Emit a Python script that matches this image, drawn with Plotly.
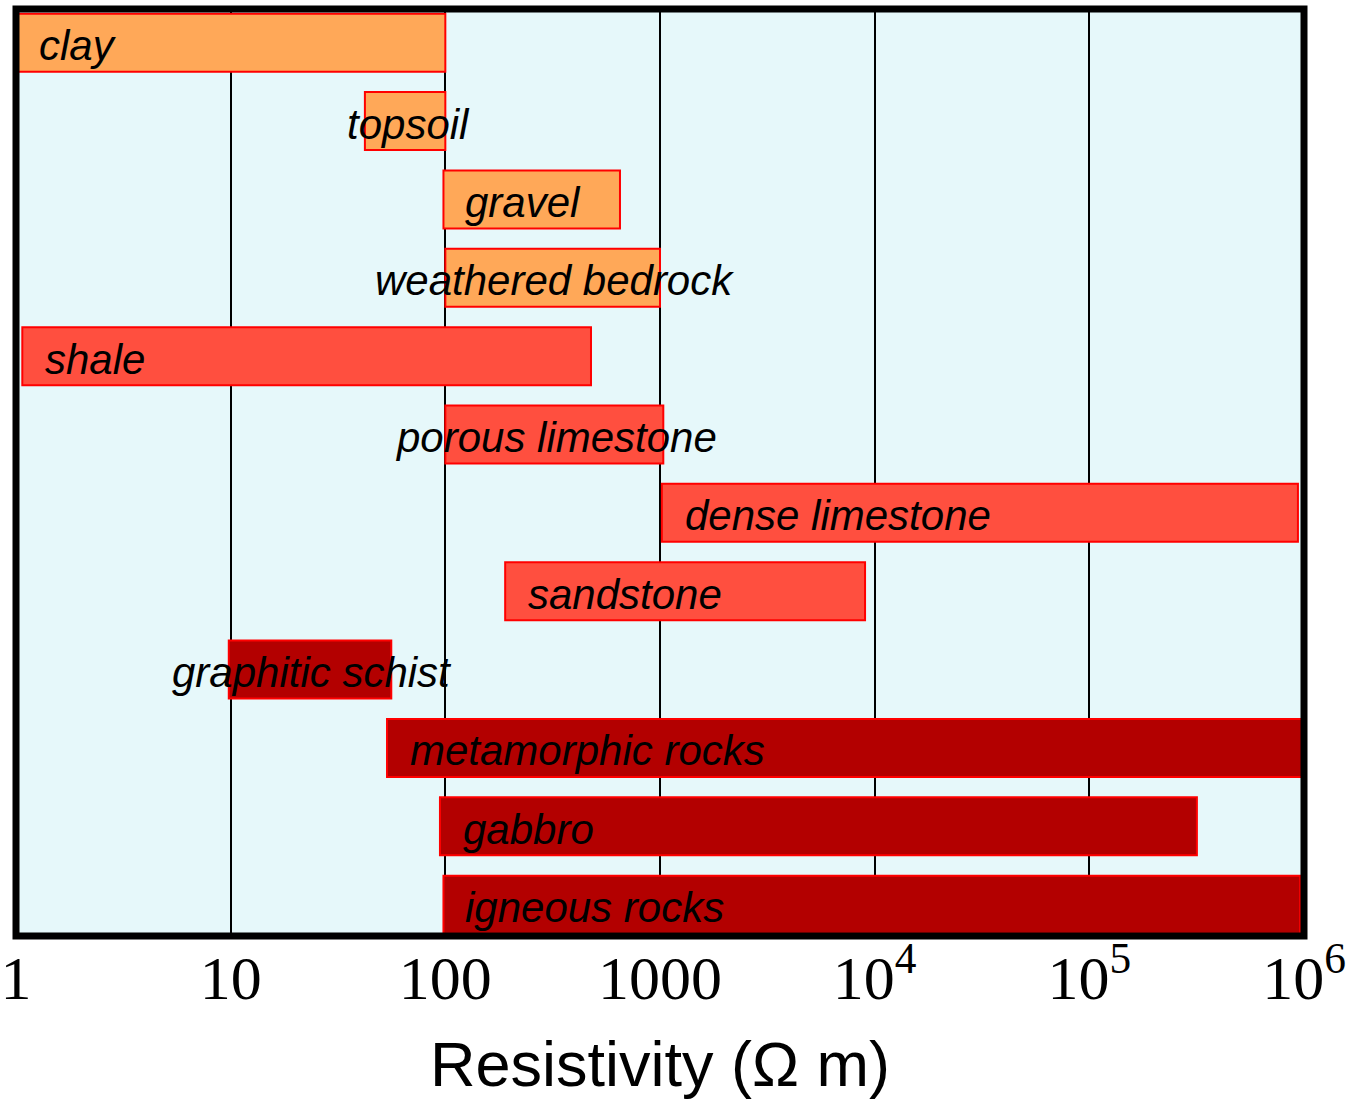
import math
import plotly.graph_objects as go

# ---- data ----
rocks = ["clay", "topsoil", "gravel", "weathered bedrock", "shale", "porous limestone",
         "dense limestone", "sandstone", "graphitic schist", "metamorphic rocks",
         "gabbro", "igneous rocks"]
low = [1.0, 42.2, 98, 100, 1.07, 100, 1020, 190, 9.8, 53.5, 94.4, 98]
high = [100, 100, 651, 1000, 477, 1036, 9.37e5, 9020, 56, 1.0e6, 3.17e5, 9.6e5]
group = ["soil", "soil", "soil", "soil", "sed", "sed", "sed", "sed",
         "ign", "ign", "ign", "ign"]
# where each label text starts (resistivity value)
label_at = [1.25, 34.1, 121, 46.0, 1.34, 57.0, 1280, 238, 5.22, 67, 118, 121]

tick_vals = [1, 10, 100, 1000, 1e4, 1e5, 1e6]
tick_text = ["1", "10", "100", "1000", "10<sup>4</sup>", "10<sup>5</sup>", "10<sup>6</sup>"]

# ---- styles ----
colors = {"soil": "#FFA858", "sed": "#FF4F3F", "ign": "#B30000"}

fig = go.Figure()
for i, name in enumerate(rocks):
    fig.add_trace(go.Bar(
        y=[i], x=[high[i] - low[i]], base=[low[i]], orientation="h",
        width=0.74,
        marker=dict(color=colors[group[i]], line=dict(color="#FF0000", width=2)),
        showlegend=False, hoverinfo="skip",
    ))
    fig.add_annotation(
        x=math.log10(label_at[i]), y=i, xref="x", yref="y",
        text="<i>" + name + "</i>", showarrow=False, xanchor="left", yanchor="middle",
        font=dict(family="Liberation Sans, Arial", size=42, color="black"),
        yshift=-3,
    )

fig.add_shape(type="rect", xref="paper", yref="paper", x0=0, x1=1, y0=0, y1=1,
              line=dict(color="black", width=7), layer="above")

fig.update_layout(
    width=1354, height=1099,
    margin=dict(l=16, r=50, t=9, b=163, autoexpand=False),
    paper_bgcolor="white", plot_bgcolor="#E6F8FA",
    barmode="overlay",
    xaxis=dict(
        type="log", range=[0, 6], automargin=False,
        tickvals=tick_vals, ticktext=tick_text,
        showgrid=True, gridcolor="black", gridwidth=1.5,
        zeroline=False, showline=False, ticks="",
        tickfont=dict(family="Liberation Serif, Times New Roman", size=62, color="black"),
        title=dict(text="Resistivity (Ω m)",
                   font=dict(family="Liberation Sans, Arial", size=63, color="black"),
                   standoff=32),
    ),
    yaxis=dict(
        range=[11.4, -0.43], showgrid=False, zeroline=False, automargin=False,
        showticklabels=False, ticks="", showline=False,
    ),
)

fig.write_html("out.html")
